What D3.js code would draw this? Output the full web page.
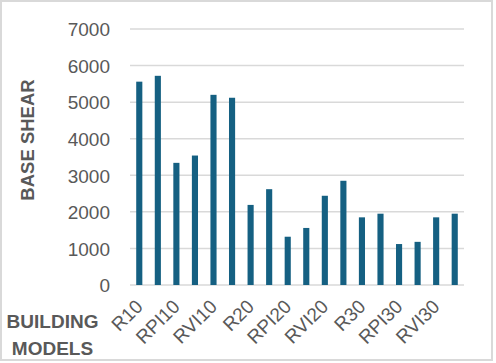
<!DOCTYPE html>
<html lang="en">
<head>
<meta charset="utf-8" />
<title>Base shear by building model</title>
<script src="https://d3js.org/d3.v7.min.js"></script>
<style>
  body { margin: 0; background: #fff; }
  text { font-family: "Liberation Sans", Arial, sans-serif; fill: #595959; }
</style>
</head>
<body>
<script>
// data
var models = ["R10", "R10b", "RPI10", "RPI10b", "RVI10", "RVI10b",
              "R20", "R20b", "RPI20", "RPI20b", "RVI20", "RVI20b",
              "R30", "R30b", "RPI30", "RPI30b", "RVI30", "RVI30b"];
var baseShear = [5560, 5720, 3340, 3540, 5200, 5120,
                 2190, 2620, 1320, 1560, 2440, 2850,
                 1850, 1950, 1120, 1180, 1850, 1950];
var yTicks = [0, 1000, 2000, 3000, 4000, 5000, 6000, 7000];
var shownLabels = ["R10", "RPI10", "RVI10", "R20", "RPI20", "RVI20", "R30", "RPI30", "RVI30"];

var w = 496, h = 363;
// plot area (window.top is reserved, so use other names)
var plotL = 130, plotR = 464, plotT = 29, plotB = 285;

var svg = d3.select("body").append("svg")
  .attr("width", w)
  .attr("height", h);

// outer frame
svg.append("rect")
  .attr("x", 1).attr("y", 1)
  .attr("width", 491).attr("height", 359)
  .attr("fill", "#fff")
  .attr("stroke", "#d9d9d9")
  .attr("stroke-width", 2);

var x = d3.scaleBand()
  .domain(models)
  .range([plotL, plotR])
  .paddingInner(0.67)
  .paddingOuter(0.335);

var y = d3.scaleLinear()
  .domain([0, 7000])
  .range([plotB, plotT]);

// gridlines
svg.append("g").selectAll("line")
  .data(yTicks)
  .enter()
  .append("line")
  .attr("x1", plotL).attr("x2", plotR)
  .attr("y1", function(d){ return y(d); })
  .attr("y2", function(d){ return y(d); })
  .attr("stroke", "#d9d9d9")
  .attr("stroke-width", 1.5);

// y axis labels
var yAxis = d3.axisLeft(y).tickValues(yTicks).tickSize(0).tickPadding(0).tickFormat(d3.format("d"));
svg.append("g")
  .attr("transform", "translate(110,0)")
  .call(yAxis)
  .call(function(g){ g.select(".domain").remove(); })
  .selectAll("text")
  .style("font-size", "19px")
  .attr("fill", "#595959")
  .attr("dy", "0.36em");

// bars
svg.append("g").selectAll("rect")
  .data(baseShear)
  .enter()
  .append("rect")
  .attr("x", function(d, i){ return x(models[i]); })
  .attr("width", x.bandwidth())
  .attr("y", function(d){ return y(d); })
  .attr("height", function(d){ return y(0) - y(d); })
  .attr("fill", "#156082");

// x axis labels, every other model
var xAxis = d3.axisBottom(x).tickValues(shownLabels).tickSize(0).tickPadding(0);
svg.append("g")
  .attr("transform", "translate(0," + plotB + ")")
  .call(xAxis)
  .call(function(g){ g.select(".domain").remove(); })
  .selectAll("text")
  .style("font-size", "19px")
  .attr("fill", "#595959")
  .attr("text-anchor", "end")
  .attr("transform", "translate(-5,13) rotate(-45)")
  .attr("dy", "0.72em")
  .attr("y", 0);

// axis titles
svg.append("text")
  .attr("transform", "translate(34,140) rotate(-90)")
  .attr("text-anchor", "middle")
  .style("font-size", "18.5px")
  .style("font-weight", "bold")
  .text("BASE SHEAR");

svg.append("text")
  .attr("x", 52.5).attr("y", 328)
  .attr("text-anchor", "middle")
  .style("font-size", "19px")
  .style("font-weight", "bold")
  .text("BUILDING");

svg.append("text")
  .attr("x", 52.5).attr("y", 355)
  .attr("text-anchor", "middle")
  .style("font-size", "19px")
  .style("font-weight", "bold")
  .text("MODELS");
</script>
</body>
</html>
